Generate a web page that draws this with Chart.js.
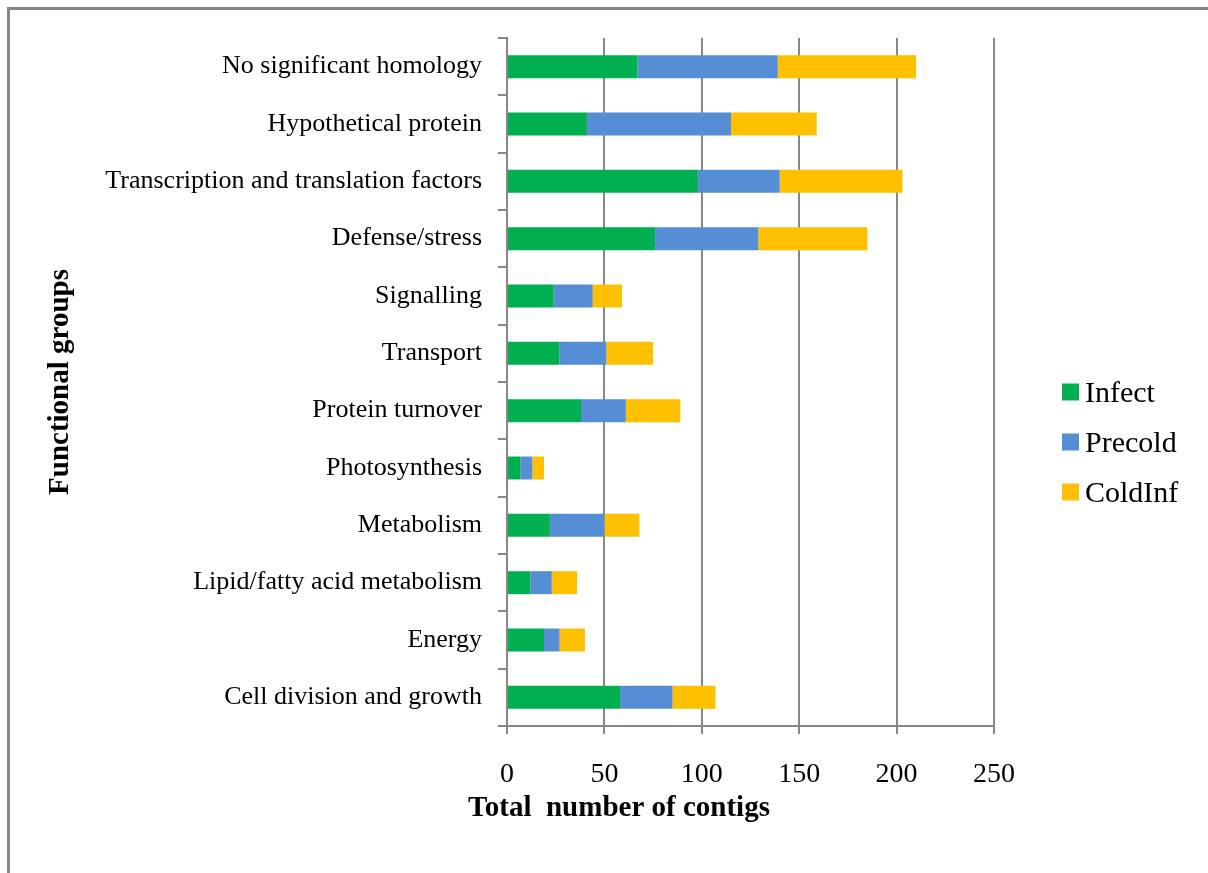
<!DOCTYPE html>
<html>
<head>
<meta charset="utf-8">
<script src="https://cdn.jsdelivr.net/npm/chart.js@4/dist/chart.umd.min.js"></script>
<style>
html, body { margin: 0; padding: 0; background: #fff; }
#grafico { display: block; }
</style>
</head>
<body>
<canvas id="grafico" width="1208" height="873"></canvas>
<script>
// Grupos funcionales (de arriba hacia abajo)
var grupos = [
    "No significant homology",
    "Hypothetical protein",
    "Transcription and translation factors",
    "Defense/stress",
    "Signalling",
    "Transport",
    "Protein turnover",
    "Photosynthesis",
    "Metabolism",
    "Lipid/fatty acid metabolism",
    "Energy",
    "Cell division and growth"
];
var infect  = [67, 41, 98, 76, 24, 27, 38, 7, 22, 12, 19, 58];
var precold = [72, 74, 42, 53, 20, 24, 23, 6, 28, 11, 8, 27];
var coldInf = [71, 44, 63, 56, 15, 24, 28, 6, 18, 13, 13, 22];
var ticksX = [0, 50, 100, 150, 200, 250];

var fuente = "'Liberation Serif', 'Times New Roman', serif";
var gris = '#878787';

// Marco, título del eje x y leyenda dibujados a mano
var extras = {
    id: 'extras',
    beforeDraw: function (chart) {
        var ctx = chart.ctx;
        ctx.save();
        ctx.fillStyle = '#fff';
        ctx.fillRect(0, 0, chart.width, chart.height);
        ctx.strokeStyle = gris;
        ctx.lineWidth = 3;
        ctx.beginPath();
        ctx.moveTo(8.5, chart.height);
        ctx.lineTo(8.5, 8.5);
        ctx.lineTo(chart.width, 8.5);
        ctx.stroke();
        ctx.restore();
    },
    afterDraw: function (chart) {
        var ctx = chart.ctx;
        ctx.save();
        ctx.fillStyle = '#000';
        ctx.font = "bold 29px " + fuente;
        ctx.textAlign = 'center';
        ctx.textBaseline = 'middle';
        ctx.fillText('Total  number of contigs', 619, 809);

        // leyenda
        ctx.font = "30px " + fuente;
        ctx.textAlign = 'left';
        chart.data.datasets.forEach(function (ds, i) {
            var cy = 393 + i * 50;
            ctx.fillStyle = ds.backgroundColor;
            ctx.fillRect(1062, cy - 9.5, 17, 17);
            ctx.fillStyle = '#000';
            ctx.fillText(ds.label, 1085, cy + 1);
        });
        ctx.restore();
    }
};

const data = {
    labels: grupos,
    datasets: [
        { label: 'Infect', data: infect, backgroundColor: '#00B050' },
        { label: 'Precold', data: precold, backgroundColor: '#558ED5' },
        { label: 'ColdInf', data: coldInf, backgroundColor: '#FFC000' }
    ]
};
data.datasets.forEach(function (ds) {
    ds.barPercentage = 0.4;
    ds.categoryPercentage = 1.0;
    ds.borderWidth = 0;
});

const config = {
    type: 'bar',
    data: data,
    options: {
        indexAxis: 'y',
        responsive: false,
        animation: false,
        devicePixelRatio: 1,
        layout: { padding: { left: 0, top: 38, right: 214, bottom: 0 } },
        plugins: {
            legend: { display: false },
            tooltip: { enabled: false }
        },
        scales: {
            x: {
                stacked: true,
                min: 0,
                max: 250,
                afterBuildTicks: function (s) {
                    s.ticks = ticksX.map(function (v) { return { value: v }; });
                },
                afterFit: function (s) { s.height = 147; },
                ticks: { color: '#000', font: { family: fuente, size: 28 }, padding: 24, maxRotation: 0 },
                grid: { color: gris, lineWidth: 2, tickLength: 8 },
                border: { color: gris, width: 2 }
            },
            y: {
                stacked: true,
                afterFit: function (s) { s.width = 507; },
                ticks: { color: '#000', font: { family: fuente, size: 26 }, padding: 16 },
                grid: { drawOnChartArea: false, color: gris, lineWidth: 2, tickLength: 9 },
                border: { color: gris, width: 2 },
                title: {
                    display: true,
                    text: 'Functional groups',
                    color: '#000',
                    font: { family: fuente, size: 29, weight: 'bold' },
                    padding: { top: 43, bottom: 0 }
                }
            }
        }
    },
    plugins: [extras]
};

const ctx = document.getElementById('grafico').getContext('2d');
new Chart(ctx, config);
</script>
</body>
</html>
